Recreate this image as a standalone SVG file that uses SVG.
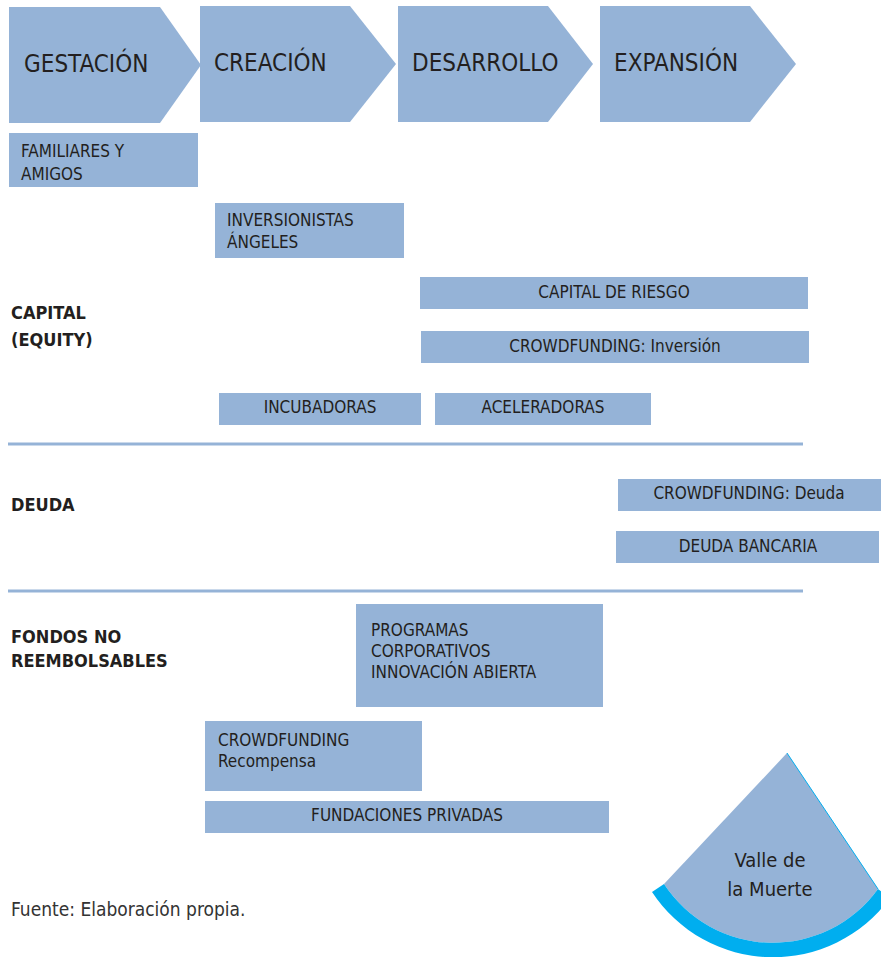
<svg xmlns="http://www.w3.org/2000/svg" width="881" height="957" viewBox="0 0 881 957">
<style>
.b{fill:#95b3d7}
text{font-family:"Liberation Sans Narrow","Arial Narrow","DejaVu Sans Condensed","Liberation Sans",sans-serif;fill:#231f20}
.h{font-size:24px}
.s{font-size:17px}
.c{text-anchor:middle}
.L{font-size:18px;font-weight:bold}
.ln{stroke:#95b3d7;stroke-width:3;fill:none}
</style>
<g id="stage-gestacion"><polygon class="b" points="9,7 160,7 201,65 160,123 9,123"/><text class="h" x="24" y="72">GESTACIÓN</text></g>
<g id="stage-creacion"><polygon class="b" points="200,6 350,6 396,64 350,122 200,122"/><text class="h" x="214" y="71">CREACIÓN</text></g>
<g id="stage-desarrollo"><polygon class="b" points="398,6 548,6 593,64 548,122 398,122"/><text class="h" x="412" y="71">DESARROLLO</text></g>
<g id="stage-expansion"><polygon class="b" points="600,6 750,6 796,64 750,122 600,122"/><text class="h" x="614" y="71">EXPANSIÓN</text></g>

<g id="familiares"><rect class="b" x="9" y="133" width="189" height="54"/><text class="s" x="21" y="157">FAMILIARES Y</text><text class="s" x="21" y="180">AMIGOS</text></g>
<g id="angeles"><rect class="b" x="215" y="203" width="189" height="55"/><text class="s" x="227" y="226">INVERSIONISTAS</text><text class="s" x="227" y="248">ÁNGELES</text></g>
<g id="label-capital"><text class="L" x="11" y="319">CAPITAL</text><text class="L" x="11" y="346">(EQUITY)</text></g>
<g id="capital-riesgo"><rect class="b" x="420" y="277" width="388" height="32"/><text class="s c" x="614" y="298">CAPITAL DE RIESGO</text></g>
<g id="crowd-inversion"><rect class="b" x="421" y="331" width="388" height="32"/><text class="s c" x="615" y="352">CROWDFUNDING: Inversión</text></g>
<g id="incubadoras"><rect class="b" x="219" y="393" width="202" height="32"/><text class="s c" x="320" y="413">INCUBADORAS</text></g>
<g id="aceleradoras"><rect class="b" x="435" y="393" width="216" height="32"/><text class="s c" x="543" y="413">ACELERADORAS</text></g>

<g id="label-deuda"><text class="L" x="11" y="511">DEUDA</text></g>
<g id="crowd-deuda"><rect class="b" x="618" y="479" width="263" height="32"/><text class="s c" x="749" y="499">CROWDFUNDING: Deuda</text></g>
<g id="deuda-bancaria"><rect class="b" x="616" y="531" width="263" height="32"/><text class="s c" x="748" y="552">DEUDA BANCARIA</text></g>

<g id="label-fondos"><text class="L" x="11" y="643">FONDOS NO</text><text class="L" x="11" y="667">REEMBOLSABLES</text></g>
<g id="programas"><rect class="b" x="356" y="604" width="247" height="103"/><text class="s" x="371" y="636">PROGRAMAS</text><text class="s" x="371" y="657">CORPORATIVOS</text><text class="s" x="371" y="678">INNOVACIÓN ABIERTA</text></g>
<g id="crowd-recompensa"><rect class="b" x="205" y="721" width="217" height="70"/><text class="s" x="218" y="746">CROWDFUNDING</text><text class="s" x="218" y="767">Recompensa</text></g>
<g id="fundaciones"><rect class="b" x="205" y="801" width="404" height="32"/><text class="s c" x="407" y="821">FUNDACIONES PRIVADAS</text></g>

<g id="valle">
<path class="b" d="M787,753 L664,884 A130,130 0 0,0 878,889 Z"/>
<path d="M664,884 A130,130 0 0,0 878,889 L890,898 A145,145 0 0,1 652,892 Z" fill="#00aeef"/>
<line x1="787" y1="753" x2="878" y2="889" stroke="#00aeef" stroke-width="1"/>
<text x="770" y="867" class="c" style="font-size:20px">Valle de</text>
<text x="770" y="896" class="c" style="font-size:20px">la Muerte</text>
</g>

<g id="connectors">
<line class="ln" x1="8" y1="444" x2="803" y2="444"/>
<line class="ln" x1="8" y1="591" x2="803" y2="591"/>
</g>

<text x="11" y="916" style="font-size:19px;fill:#333">Fuente: Elaboración propia.</text>
</svg>
